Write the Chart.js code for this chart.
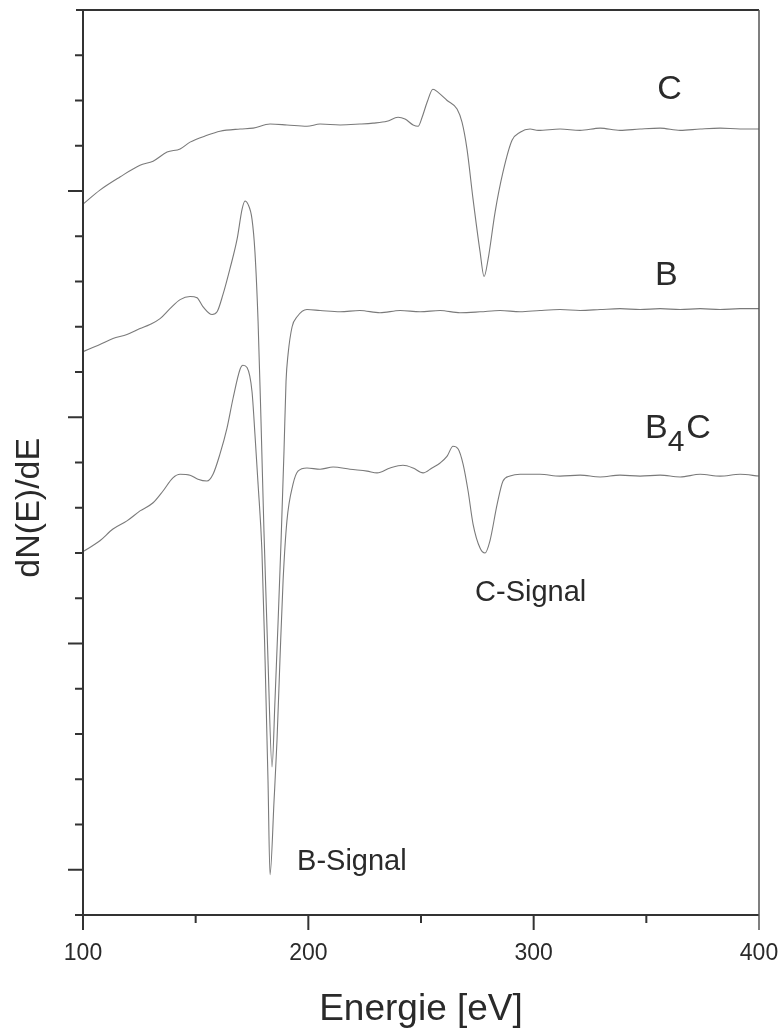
<!DOCTYPE html>
<html>
<head>
<meta charset="utf-8">
<script src="https://cdn.jsdelivr.net/npm/chart.js@4.4.1/dist/chart.umd.min.js"></script>
<style>
  html, body { margin: 0; padding: 0; background: #fff; }
</style>
</head>
<body>
<canvas id="chart" width="784" height="1032"></canvas>
<script>
// AES spectra, derivative mode: pure carbon, pure boron and boron carbide
const cEnergy = [100.0, 107.5, 116.4, 125.3, 131.1, 137.3, 143.1, 147.5, 155.0, 160.8, 169.7, 175.5, 183.0, 190.5, 199.4, 205.2, 214.1, 222.9, 228.7, 234.9, 239.8, 242.9, 246.5, 248.7, 250.5, 252.7, 255.3, 257.6, 261.6, 266.0, 268.2, 270.4, 273.1, 276.2, 278.0, 279.8, 282.9, 286.4, 290.4, 294.0, 298.4, 302.0, 311.7, 320.6, 329.5, 338.3, 347.2, 356.1, 365.0, 373.9, 382.7, 391.6, 400.0];
const cSignal = [14.71, 15.02, 15.31, 15.57, 15.66, 15.86, 15.93, 16.08, 16.23, 16.32, 16.37, 16.39, 16.48, 16.46, 16.43, 16.48, 16.46, 16.48, 16.50, 16.54, 16.63, 16.59, 16.46, 16.43, 16.63, 16.96, 17.25, 17.18, 17.00, 16.81, 16.52, 15.93, 14.82, 13.66, 13.11, 13.50, 14.54, 15.42, 16.12, 16.30, 16.37, 16.34, 16.37, 16.34, 16.39, 16.34, 16.37, 16.39, 16.34, 16.37, 16.39, 16.37, 16.37];

const bEnergy = [100.0, 107.5, 113.3, 119.5, 125.3, 129.7, 134.2, 138.6, 143.1, 147.5, 150.6, 153.3, 157.3, 159.5, 162.1, 165.2, 168.4, 170.6, 171.9, 173.2, 175.0, 176.3, 177.7, 179.0, 180.3, 182.1, 183.9, 185.2, 186.6, 187.9, 189.2, 190.1, 191.0, 192.8, 195.0, 199.4, 205.2, 214.1, 222.9, 231.8, 240.7, 249.6, 258.5, 267.3, 276.2, 285.1, 294.0, 302.8, 311.7, 320.6, 329.5, 338.3, 347.2, 356.1, 365.0, 373.9, 382.7, 391.6, 400.0];
const bSignal = [11.45, 11.61, 11.74, 11.83, 11.96, 12.05, 12.18, 12.40, 12.60, 12.67, 12.64, 12.44, 12.27, 12.33, 12.71, 13.28, 13.94, 14.60, 14.78, 14.71, 14.38, 13.66, 12.11, 9.91, 7.49, 4.63, 2.27, 3.74, 5.51, 7.27, 9.25, 10.79, 11.39, 12.00, 12.22, 12.38, 12.36, 12.33, 12.36, 12.31, 12.36, 12.33, 12.36, 12.31, 12.33, 12.36, 12.33, 12.36, 12.38, 12.36, 12.38, 12.40, 12.38, 12.40, 12.38, 12.40, 12.38, 12.40, 12.40];

const b4cEnergy = [100.0, 107.5, 113.3, 119.5, 125.3, 131.1, 135.5, 139.9, 143.1, 147.5, 151.0, 155.0, 157.7, 160.8, 163.9, 166.6, 169.7, 171.0, 172.8, 175.0, 176.3, 177.7, 179.4, 180.8, 182.1, 183.0, 184.8, 186.1, 187.4, 188.8, 190.5, 193.2, 195.4, 199.4, 205.2, 211.0, 218.5, 226.1, 230.5, 236.3, 242.0, 246.5, 250.9, 254.9, 258.5, 261.6, 264.2, 266.5, 268.7, 270.9, 273.1, 276.2, 278.4, 280.6, 283.8, 286.4, 289.5, 294.0, 299.7, 302.8, 311.7, 320.6, 329.5, 338.3, 347.2, 356.1, 365.0, 373.9, 382.7, 391.6, 400.0];
const b4cSignal = [7.03, 7.27, 7.53, 7.71, 7.93, 8.11, 8.37, 8.66, 8.74, 8.72, 8.63, 8.59, 8.74, 9.19, 9.76, 10.42, 11.06, 11.15, 11.10, 10.57, 9.63, 8.52, 7.05, 4.63, 1.98, -0.11, 1.54, 2.86, 4.63, 6.39, 7.71, 8.52, 8.81, 8.88, 8.85, 8.90, 8.85, 8.81, 8.77, 8.88, 8.94, 8.88, 8.77, 8.88, 8.99, 9.14, 9.36, 9.30, 8.96, 8.37, 7.64, 7.11, 7.00, 7.27, 8.08, 8.59, 8.70, 8.74, 8.74, 8.74, 8.70, 8.72, 8.68, 8.72, 8.70, 8.72, 8.68, 8.74, 8.70, 8.74, 8.70];

const energyTicks = [100, 200, 300, 400];

// curve names and signal notes, anchored in data units [energy, value]
const curveLabels = [
  { text: 'C', at: [354.8, 17.03] },
  { text: 'B', at: [353.9, 12.93] },
  { text: 'B', sub: '4', tail: 'C', at: [349.4, 9.54] },
];
const signalLabels = [
  { text: 'C-Signal', at: [274.0, 5.95] },
  { text: 'B-Signal', at: [195.0, 0.0] },
];

const FONT = "'Liberation Sans', Arial, sans-serif";
const INK = '#2a2a2a';

function toPoints(xs, ys) {
  return xs.map((x, i) => ({ x: x, y: ys[i] }));
}

const frame = {
  id: 'frame',
  afterDraw(chart) {
    const { ctx, chartArea: a, scales: { x, y } } = chart;
    ctx.save();
    ctx.strokeStyle = '#333';
    ctx.lineWidth = 2;
    ctx.beginPath();
    ctx.moveTo(a.left, a.top);
    ctx.lineTo(a.left, a.bottom);
    ctx.lineTo(a.right, a.bottom);
    ctx.moveTo(a.left - 7, a.top);
    ctx.lineTo(a.right, a.top);
    ctx.stroke();

    ctx.strokeStyle = '#555';
    ctx.lineWidth = 1.5;
    ctx.beginPath();
    ctx.moveTo(a.right, a.top);
    ctx.lineTo(a.right, a.bottom + 15);
    ctx.stroke();

    // tick marks, long on the major steps
    ctx.strokeStyle = '#333';
    ctx.lineWidth = 2;
    ctx.beginPath();
    for (let v = 100; v < 400; v += 50) {
      const px = x.getPixelForValue(v);
      ctx.moveTo(px, a.bottom);
      ctx.lineTo(px, a.bottom + (v % 100 === 0 ? 15 : 8));
    }
    for (let v = -1; v <= 18; v++) {
      const py = y.getPixelForValue(v);
      ctx.moveTo(a.left, py);
      ctx.lineTo(a.left - (v % 5 === 0 ? 15 : 8), py);
    }
    ctx.stroke();

    ctx.fillStyle = INK;
    ctx.textBaseline = 'alphabetic';
    ctx.textAlign = 'left';

    curveLabels.forEach(l => {
      let px = x.getPixelForValue(l.at[0]);
      const py = y.getPixelForValue(l.at[1]);
      ctx.font = '34px ' + FONT;
      ctx.fillText(l.text, px, py);
      if (l.sub) {
        px += ctx.measureText(l.text).width;
        ctx.font = '30px ' + FONT;
        ctx.fillText(l.sub, px, py + 13);
        px += ctx.measureText(l.sub).width + 2;
        ctx.font = '34px ' + FONT;
        ctx.fillText(l.tail, px, py);
      }
    });

    ctx.font = '29px ' + FONT;
    signalLabels.forEach(l => {
      ctx.fillText(l.text, x.getPixelForValue(l.at[0]), y.getPixelForValue(l.at[1]));
    });

    // y axis title
    ctx.font = '34px ' + FONT;
    ctx.textAlign = 'center';
    ctx.textBaseline = 'middle';
    ctx.translate(30, y.getPixelForValue(8));
    ctx.rotate(-Math.PI / 2);
    ctx.fillText('dN(E)/dE', 0, 0);
    ctx.restore();
  }
};

const lineStyle = {
  borderColor: '#7a7a7a',
  borderWidth: 1.1,
  pointRadius: 0,
  fill: false,
  cubicInterpolationMode: 'monotone',
};

const ctx = document.getElementById('chart').getContext('2d');

const chart = new Chart(ctx, {
  type: 'line',
  data: {
    datasets: [
      { label: 'C', data: toPoints(cEnergy, cSignal), ...lineStyle },
      { label: 'B', data: toPoints(bEnergy, bSignal), ...lineStyle },
      { label: 'B4C', data: toPoints(b4cEnergy, b4cSignal), ...lineStyle },
    ]
  },
  options: {
    responsive: false,
    animation: false,
    layout: { padding: { top: 10, right: 25, left: 0, bottom: 0 } },
    plugins: {
      legend: { display: false },
      tooltip: { enabled: false },
    },
    scales: {
      x: {
        type: 'linear',
        min: 100,
        max: 400,
        // tick marks are drawn by the frame plugin; tickLength only spaces the labels
        grid: { display: false, drawTicks: true, tickLength: 25 },
        border: { display: false },
        afterBuildTicks: s => { s.ticks = energyTicks.map(v => ({ value: v })); },
        ticks: {
          autoSkip: false,
          maxRotation: 0,
          padding: 0,
          color: INK,
          font: { family: FONT, size: 23 },
        },
        title: {
          display: true,
          text: 'Energie [eV]',
          color: INK,
          font: { family: FONT, size: 37 },
          padding: { top: 0, bottom: 0 },
        },
        afterFit: s => { s.height = 117; },
      },
      y: {
        type: 'linear',
        min: -1,
        max: 19,
        grid: { display: false, drawTicks: false },
        border: { display: false },
        ticks: { display: false },
        afterFit: s => { s.width = 83; },
      }
    }
  },
  plugins: [frame]
});
</script>
</body>
</html>
